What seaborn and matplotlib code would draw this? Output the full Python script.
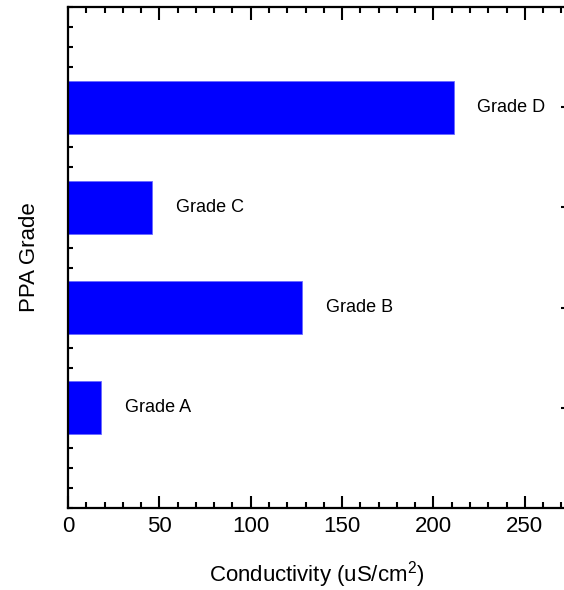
import matplotlib
matplotlib.use("Agg")
import matplotlib.pyplot as plt
from matplotlib.ticker import MultipleLocator
import pandas as pd
import seaborn as sns

# data
grades = ["Grade D", "Grade C", "Grade B", "Grade A"]
conductivity = [211, 46, 128, 18]

df = pd.DataFrame({"grade": grades, "conductivity": conductivity})

sns.set_theme(style="ticks")
plt.rcParams["font.family"] = ["Liberation Sans", "DejaVu Sans"]
plt.rcParams["mathtext.fontset"] = "custom"
plt.rcParams["mathtext.rm"] = "Liberation Sans"
plt.rcParams["mathtext.it"] = "Liberation Sans"
plt.rcParams["text.color"] = "black"
plt.rcParams["axes.labelcolor"] = "black"
plt.rcParams["xtick.color"] = "black"
plt.rcParams["ytick.color"] = "black"

fig = plt.figure(figsize=(5.64, 5.90), dpi=100)
ax = fig.add_axes([0.1206, 0.139, 1.0018 - 0.1206, 0.988 - 0.139])

sns.barplot(data=df, x="conductivity", y="grade", order=grades, orient="h",
            color="#0000ff", saturation=1, width=0.53,
            edgecolor="#6a6aff", linewidth=0.6, ax=ax)

# grade labels to the right of each bar
for i, (g, v) in enumerate(zip(grades, conductivity)):
    ax.annotate(g, xy=(v, i), xytext=(17, 0), textcoords="offset points",
                ha="left", va="center", fontsize=13, color="black")

ax.set_xlim(0, 272)
ax.set_ylim(4, -1)
ax.set_axisbelow(True)

ax.xaxis.set_major_locator(MultipleLocator(50))
ax.xaxis.set_minor_locator(MultipleLocator(10))
ax.yaxis.set_minor_locator(MultipleLocator(0.2))

ax.tick_params(axis="x", which="both", direction="in", top=True, bottom=True,
               width=1.5, labelsize=16, pad=6)
ax.tick_params(axis="x", which="major", length=9)
ax.tick_params(axis="x", which="minor", length=4.5)
ax.tick_params(axis="y", which="major", direction="in", left=False, right=True,
               labelleft=False, length=3, width=1.5)
ax.tick_params(axis="y", which="minor", direction="in", left=True, right=False,
               length=3.5, width=1.5)

for side in ["left", "top", "bottom"]:
    ax.spines[side].set_linewidth(1.6)
    ax.spines[side].set_color("black")
ax.spines["right"].set_visible(False)

ax.set_xlabel("Conductivity (uS/cm$^2$)", fontsize=16, labelpad=16)
ax.set_ylabel("PPA Grade", fontsize=16, labelpad=17)

fig.savefig("out.png", dpi=100)
